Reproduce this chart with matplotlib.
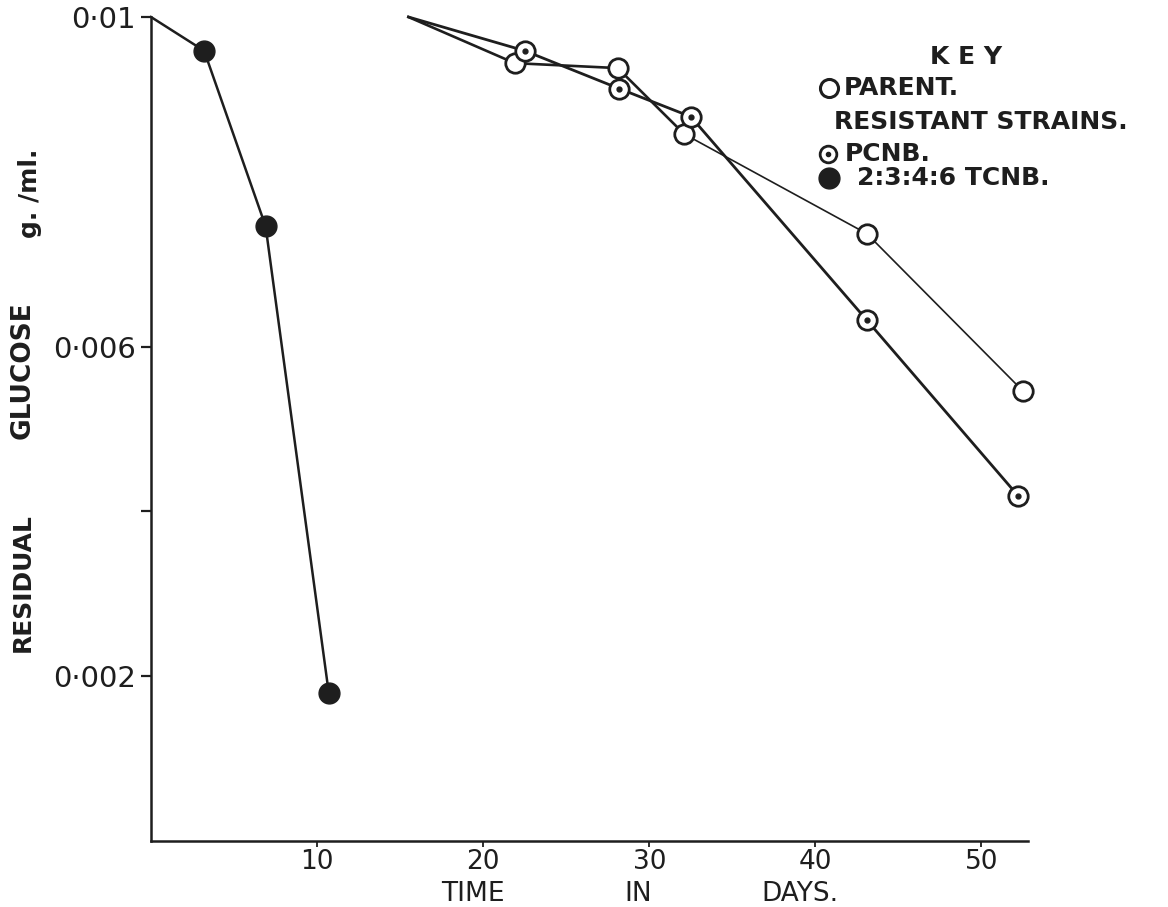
import numpy as np
import matplotlib
matplotlib.use("Agg")
import matplotlib.pyplot as plt

# values (time in days, residual glucose g./ml.)
tcnb_days = [0.0, 3.2, 6.9, 10.7]
tcnb_glucose = [0.0100, 0.00959, 0.00746, 0.00180]

parent_days = [15.5, 21.9, 28.1, 32.1, 43.1, 52.5]
parent_glucose = [0.0100, 0.00944, 0.00938, 0.00858, 0.00737, 0.00546]

pcnb_days = [15.5, 22.5, 28.2, 32.5, 43.1, 52.2]
pcnb_glucose = [0.0100, 0.00959, 0.00913, 0.00879, 0.00632, 0.00419]

x_ticks = [10, 20, 30, 40, 50]
x_tick_labels = ["10", "20", "30", "40", "50"]
y_ticks = [0.002, 0.004, 0.006, 0.010]
y_tick_labels = ["0·002", "", "0·006", "0·01"]

W, H = 1168, 907
ink = "#1e1e1e"
plt.rcParams["font.family"] = ["DejaVu Sans"]

fig = plt.figure(figsize=(W / 100, H / 100), dpi=100)
fig.patch.set_facecolor("white")
ax = fig.add_axes([151 / W, 1 - 841 / H, 877 / W, 824 / H])
ax.set_xlim(0, 52.8)
ax.set_ylim(0, 0.010)

for s in ["top", "right"]:
    ax.spines[s].set_visible(False)
for s in ["left", "bottom"]:
    ax.spines[s].set_linewidth(1.8)
    ax.spines[s].set_color(ink)

ax.set_xticks(x_ticks)
ax.set_xticklabels(x_tick_labels, fontsize=19, color=ink)
ax.set_yticks(y_ticks)
ax.set_yticklabels(y_tick_labels, fontsize=21, color=ink)
ax.tick_params(axis="y", direction="out", length=7, width=1.6, pad=4, colors=ink)
ax.tick_params(axis="x", direction="out", length=4, width=1.3, pad=2, colors=ink)

# 2:3:4:6 TCNB strain, filled dots
ax.plot(tcnb_days, tcnb_glucose, color=ink, lw=1.8, clip_on=False, zorder=3)
ax.plot(tcnb_days[1:], tcnb_glucose[1:], "o", color=ink, ms=15,
        clip_on=False, zorder=4)

# parent strain, open circles (thinner line after day 32)
ax.plot(parent_days[:4], parent_glucose[:4], color=ink, lw=1.9, clip_on=False, zorder=3)
ax.plot(parent_days[3:], parent_glucose[3:], color=ink, lw=1.2, clip_on=False, zorder=3)
ax.plot(parent_days[1:], parent_glucose[1:], "o", mfc="white", mec=ink, mew=2,
        ms=14, clip_on=False, zorder=4)

# PCNB strain, circle with a centre dot
ax.plot(pcnb_days, pcnb_glucose, color=ink, lw=2.0, clip_on=False, zorder=3)
ax.plot(pcnb_days[1:], pcnb_glucose[1:], "o", mfc="white", mec=ink, mew=2,
        ms=14, clip_on=False, zorder=5)
ax.plot(pcnb_days[1:], pcnb_glucose[1:], "o", color=ink, ms=3.5,
        clip_on=False, zorder=6)


def px(x, y):
    return x / W, 1 - y / H


# axis titles, hand-lettered in spaced words
fig.text(*px(23, 583), "RESIDUAL", rotation=90, ha="center", va="center",
         fontsize=18, fontweight="bold", color=ink)
fig.text(*px(23, 370), "GLUCOSE", rotation=90, ha="center", va="center",
         fontsize=19, fontweight="bold", color=ink)
fig.text(*px(30, 193), "g. /ml.", rotation=90, ha="center", va="center",
         fontsize=18, fontweight="bold", color=ink)
for word, xx in [("TIME", 473), ("IN", 638), ("DAYS.", 800)]:
    fig.text(*px(xx, 894), word, ha="center", va="center", fontsize=19, color=ink)

# key
key_kw = dict(ha="left", va="center", fontsize=18, fontweight="bold", color=ink)
fig.text(*px(966, 57), "K E Y", ha="center", va="center", fontsize=18,
         fontweight="bold", color=ink)
fig.text(*px(844, 88), "PARENT.", **key_kw)
fig.text(*px(834, 122), "RESISTANT STRAINS.", **key_kw)
fig.text(*px(845, 154), "PCNB.", **key_kw)
fig.text(*px(857, 178), "2:3:4:6 TCNB.", **key_kw)
fig.lines.append(plt.Line2D([829 / W], [1 - 88 / H], marker="o", mfc="white", mec=ink,
                            mew=2.2, ms=13, transform=fig.transFigure))
fig.lines.append(plt.Line2D([828 / W], [1 - 154 / H], marker="o", mfc="white", mec=ink,
                            mew=2, ms=12, transform=fig.transFigure))
fig.lines.append(plt.Line2D([828 / W], [1 - 154 / H], marker="o", color=ink,
                            ms=3, transform=fig.transFigure))
fig.lines.append(plt.Line2D([829 / W], [1 - 178 / H], marker="o", color=ink,
                            ms=15, transform=fig.transFigure))

fig.savefig("out.png", dpi=100, facecolor="white")
